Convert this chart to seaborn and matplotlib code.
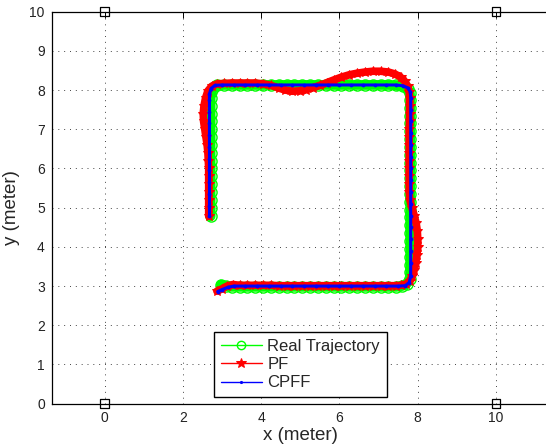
import matplotlib
matplotlib.use("Agg")
import matplotlib.pyplot as plt
import seaborn as sns

# Datos (metros)
real_x = [2.71, 2.71, 2.71, 2.71, 2.71, 2.71, 2.71, 2.71, 2.71, 2.71, 2.71, 2.71, 2.71, 2.71, 2.71, 2.71,
          2.72, 2.77, 2.88,
          3.05, 3.25, 3.45, 3.65, 3.85, 4.05, 4.25, 4.45, 4.65, 4.85, 5.05, 5.25, 5.45, 5.65, 5.85, 6.05,
          6.25, 6.45, 6.65, 6.85, 7.05, 7.25, 7.45, 7.62, 7.74, 7.80,
          7.81, 7.81, 7.81, 7.81, 7.81, 7.81, 7.81, 7.81, 7.81, 7.81, 7.81, 7.81, 7.81, 7.81, 7.81, 7.81,
          7.81, 7.81, 7.81, 7.81, 7.81, 7.81, 7.81, 7.79, 7.72, 7.60,
          7.45, 7.25, 7.05, 6.85, 6.65, 6.45, 6.25, 6.05, 5.85, 5.65, 5.45, 5.25, 5.05, 4.85, 4.65, 4.45,
          4.25, 4.05, 3.85, 3.65, 3.45, 3.25, 3.10, 2.97]
real_y = [4.78, 5.00, 5.20, 5.40, 5.60, 5.80, 6.00, 6.20, 6.40, 6.60, 6.80, 7.00, 7.20, 7.40, 7.60, 7.80,
          7.95, 8.06, 8.12,
          8.13, 8.13, 8.13, 8.13, 8.13, 8.13, 8.13, 8.13, 8.13, 8.13, 8.13, 8.13, 8.13, 8.13, 8.13, 8.13,
          8.13, 8.13, 8.13, 8.13, 8.13, 8.13, 8.12, 8.10, 8.03, 7.92,
          7.75, 7.55, 7.35, 7.15, 6.95, 6.75, 6.55, 6.35, 6.15, 5.95, 5.75, 5.55, 5.35, 5.15, 4.95, 4.75,
          4.55, 4.35, 4.15, 3.95, 3.75, 3.55, 3.35, 3.18, 3.06, 3.00,
          2.98, 2.98, 2.98, 2.98, 2.98, 2.98, 2.98, 2.98, 2.98, 2.98, 2.98, 2.98, 2.98, 2.98, 2.98, 2.98,
          2.98, 2.98, 2.98, 2.98, 2.98, 2.98, 3.00, 3.04]

pf_x = [2.66, 2.66, 2.66, 2.66, 2.66, 2.66, 2.66, 2.65, 2.64, 2.62, 2.59, 2.56, 2.53, 2.52, 2.54, 2.58,
        2.64, 2.74, 2.88,
        3.05, 3.25, 3.45, 3.65, 3.85, 4.05, 4.25, 4.45, 4.62, 4.80, 4.98, 5.15, 5.32, 5.50, 5.68, 5.86,
        6.05, 6.25, 6.45, 6.65, 6.85, 7.05, 7.25, 7.42, 7.56, 7.67, 7.74, 7.78,
        7.79, 7.79, 7.79, 7.79, 7.78, 7.78, 7.78, 7.78, 7.78, 7.78, 7.78, 7.78, 7.78, 7.80, 7.85, 7.91,
        7.96, 7.99, 8.00, 8.00, 7.98, 7.95, 7.91, 7.86, 7.79, 7.70, 7.58,
        7.45, 7.25, 7.05, 6.85, 6.65, 6.45, 6.25, 6.05, 5.85, 5.65, 5.45, 5.25, 5.05, 4.85, 4.65, 4.45,
        4.25, 4.05, 3.85, 3.65, 3.45, 3.28, 3.13, 3.00, 2.87]
pf_y = [4.78, 5.00, 5.20, 5.40, 5.60, 5.80, 6.00, 6.20, 6.40, 6.60, 6.80, 7.00, 7.20, 7.40, 7.60, 7.80,
        7.98, 8.10, 8.16,
        8.17, 8.18, 8.18, 8.18, 8.18, 8.16, 8.12, 8.05, 8.00, 7.97, 7.98, 8.01, 8.06, 8.12, 8.19, 8.26,
        8.33, 8.39, 8.43, 8.46, 8.48, 8.48, 8.46, 8.41, 8.33, 8.22, 8.10, 7.96,
        7.80, 7.60, 7.40, 7.20, 7.00, 6.80, 6.60, 6.40, 6.20, 6.00, 5.80, 5.60, 5.40, 5.20, 5.00, 4.80,
        4.60, 4.40, 4.20, 4.00, 3.80, 3.60, 3.42, 3.26, 3.13, 3.05, 3.02,
        3.01, 3.01, 3.01, 3.01, 3.01, 3.01, 3.01, 3.01, 3.01, 3.01, 3.01, 3.01, 3.01, 3.01, 3.01, 3.01,
        3.02, 3.02, 3.02, 3.02, 3.02, 3.04, 3.00, 2.93, 2.87]

cpff_x = [2.68, 2.68, 2.68, 2.68, 2.68, 2.68, 2.68, 2.68, 2.68, 2.68, 2.68, 2.68, 2.72, 2.82,
          3.00, 3.30, 3.60, 3.90, 4.20, 4.50, 4.80, 5.10, 5.40, 5.70, 6.00, 6.30, 6.60, 6.90, 7.20,
          7.45, 7.62, 7.74, 7.81,
          7.82, 7.82, 7.82, 7.82, 7.82, 7.82, 7.82, 7.82, 7.82, 7.82, 7.82, 7.82, 7.82, 7.82, 7.82,
          7.82, 7.78, 7.68,
          7.50, 7.20, 6.90, 6.60, 6.30, 6.00, 5.70, 5.40, 5.10, 4.80, 4.50, 4.20, 3.90, 3.60, 3.30,
          3.15, 3.00, 2.89]
cpff_y = [4.78, 5.05, 5.35, 5.65, 5.95, 6.25, 6.55, 6.85, 7.15, 7.45, 7.75, 7.90, 8.04, 8.12,
          8.13, 8.13, 8.13, 8.13, 8.13, 8.13, 8.13, 8.13, 8.13, 8.13, 8.13, 8.13, 8.13, 8.13, 8.13,
          8.13, 8.11, 8.06, 7.96,
          7.80, 7.50, 7.20, 6.90, 6.60, 6.30, 6.00, 5.70, 5.40, 5.10, 4.80, 4.50, 4.20, 3.90, 3.60,
          3.25, 3.09, 3.01,
          3.00, 3.00, 3.00, 3.00, 3.00, 3.00, 3.00, 3.00, 3.00, 3.00, 3.00, 3.00, 3.00, 3.00, 3.00,
          2.97, 2.91, 2.86]

anchor_x = [0, 10, 0, 10]
anchor_y = [0, 0, 10, 10]

x_ticks = [0, 2, 4, 6, 8, 10]
y_ticks = [0, 1, 2, 3, 4, 5, 6, 7, 8, 9, 10]

# Estilo tipo MATLAB
sns.set_style("white")
plt.rcParams['font.family'] = ['Liberation Sans', 'DejaVu Sans']
plt.rcParams['lines.solid_capstyle'] = 'round'
plt.rcParams['lines.solid_joinstyle'] = 'round'

fig = plt.figure(figsize=(5.46, 4.47), dpi=100)
ax = fig.add_axes([0.0947, 0.0969, 0.9106, 0.877])

# Trayectoria real (banda verde)
sns.lineplot(x=real_x, y=real_y, sort=False, estimator=None, color='#00ff00', lw=7, ax=ax, zorder=2)
sns.lineplot(x=real_x, y=real_y, sort=False, estimator=None, color='#00ff00', lw=1, ax=ax,
             marker='o', markersize=8, markerfacecolor='none', markeredgecolor='#00ff00',
             markeredgewidth=1, label='Real Trajectory', zorder=2)

# PF (banda roja)
sns.lineplot(x=pf_x, y=pf_y, sort=False, estimator=None, color='#ff0000', lw=5.5, ax=ax, zorder=3)
sns.lineplot(x=pf_x, y=pf_y, sort=False, estimator=None, color='#ff0000', lw=1, ax=ax,
             marker='*', markersize=7.5, markeredgecolor='#ff0000', markerfacecolor='#ff0000',
             label='PF', zorder=3)

# CPFF (linea azul)
sns.lineplot(x=cpff_x, y=cpff_y, sort=False, estimator=None, color='#0000ff', lw=2.2, ax=ax,
             marker='.', markersize=4, markeredgecolor='#0000ff', label='CPFF', zorder=4)

# Anclas en las esquinas
sns.scatterplot(x=anchor_x, y=anchor_y, marker='s', s=40, facecolor='none', edgecolor='black',
                linewidth=0.9, ax=ax, clip_on=False, zorder=6, legend=False)

ax.set_xlim(-1.35, 11.35)
ax.set_ylim(0, 10)
ax.set_xticks(x_ticks)
ax.set_yticks(y_ticks)
ax.grid(True, color='#444444', linestyle=(0, (1, 5)), linewidth=0.7)
ax.set_axisbelow(True)
ax.tick_params(direction='in', top=True, right=False, length=4, width=0.7,
               labelsize=10, colors='black', labelcolor='#222222', pad=5)
for sp in ax.spines.values():
    sp.set_color('black')
    sp.set_linewidth(0.9)
ax.spines['right'].set_visible(False)

ax.set_xlabel('x (meter)', fontsize=13.5, labelpad=2)
ax.set_ylabel('y (meter)', fontsize=13.5, labelpad=7)

leg = ax.legend(loc='lower center', bbox_to_anchor=(0.5, 0.017), borderaxespad=0,
                fontsize=12, frameon=True, fancybox=False, shadow=False, framealpha=1,
                edgecolor='black', handlelength=2.5, handletextpad=0.3, labelspacing=0.2,
                borderpad=0.4)
leg.get_frame().set_linewidth(1.0)
leg_ms = [6, 7, 3]
for line, ms in zip(leg.get_lines(), leg_ms):
    line.set_linewidth(1.0)
    line.set_markersize(ms)

fig.savefig('out.png', dpi=100)
